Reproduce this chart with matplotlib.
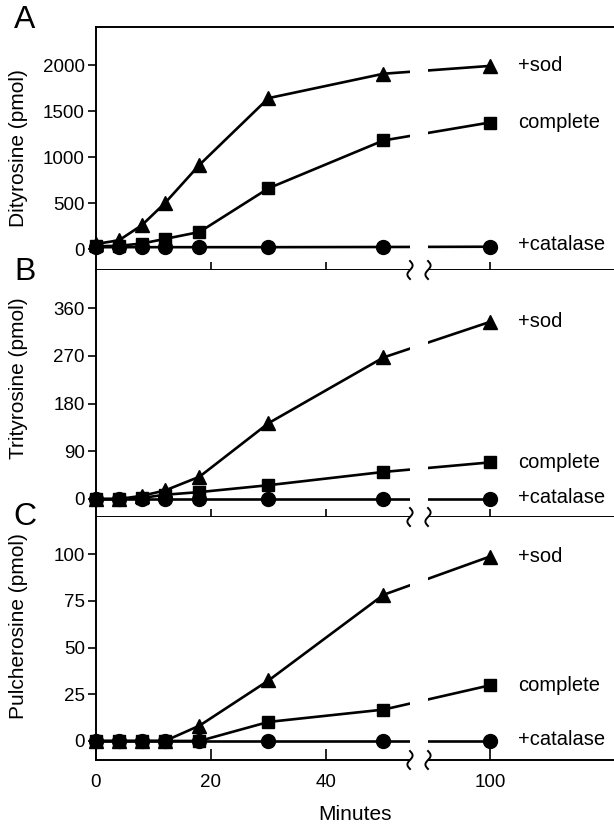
import numpy as np
import matplotlib
matplotlib.use('Agg')
import matplotlib.pyplot as plt
from matplotlib.patches import Rectangle
from matplotlib.lines import Line2D
import matplotlib.transforms as mtransforms

plt.rcParams['font.family'] = ['Liberation Sans', 'DejaVu Sans']

# czasy pomiaru (min)
minutes = [0, 4, 8, 12, 18, 30, 50, 100]

# A - dityrozyna (pmol)
dity_sod = [55, 95, 260, 500, 915, 1640, 1905, 1990]
dity_complete = [30, 35, 60, 110, 185, 660, 1180, 1375]
dity_catalase = [20, 20, 20, 20, 20, 20, 22, 25]

# B - trityrozyna (pmol)
trity_sod = [0, 0, 6, 16, 42, 143, 267, 334]
trity_complete = [0, 0, 2, 8, 13, 26, 51, 69]
trity_catalase = [0, 0, 0, 0, 0, 0, 0, 0]

# C - pulcherozyna (pmol)
pulch_sod = [0, 0, 0, 0, 8.2, 32.4, 78.3, 98.8]
pulch_complete = [0, 0, 0, 0, 0, 10.2, 16.8, 29.8]
pulch_catalase = [0, 0, 0, 0, 0, 0, 0, 0]

series_labels = ['+sod', 'complete', '+catalase']
xtick_vals = [0, 20, 40, 100]

panels = [
    ('A', 'Dityrosine (pmol)', [dity_sod, dity_complete, dity_catalase],
     [0, 500, 1000, 1500, 2000], (-228, 2413)),
    ('B', 'Trityrosine (pmol)', [trity_sod, trity_complete, trity_catalase],
     [0, 90, 180, 270, 360], (-34, 432)),
    ('C', 'Pulcherosine (pmol)', [pulch_sod, pulch_complete, pulch_catalase],
     [0, 25, 50, 75, 100], (-10.2, 120)),
]

# przerwana os x: powyzej 55 min skala scisnieta
BRK = 55.0
K = 0.3


def fwd(x):
    x = np.asarray(x, dtype=float)
    return np.where(x <= BRK, x, BRK + (x - BRK) * K)


def inv(x):
    x = np.asarray(x, dtype=float)
    return np.where(x <= BRK, x, BRK + (x - BRK) / K)


W, H = 614, 825
fig = plt.figure(figsize=(W / 100, H / 100), dpi=100)

left = 96 / W
width = 1 - left
boxes = [(27, 270), (270, 517), (517, 760)]
label_y = [0.5, 0.56, 0.55]
markers = ['^', 's', 'o']
msizes = [10.5, 8.5, 10]

gap_lo, gap_hi = 54.6, float(inv(57.7))

for i, (letter, ylabel, data, yticks, ylim) in enumerate(panels):
    top_px, bot_px = boxes[i]
    ax = fig.add_axes([left, 1 - bot_px / H, width, (bot_px - top_px) / H])
    ax.set_xscale('function', functions=(fwd, inv))
    ax.set_xlim(0, float(inv(90.1)))
    ax.set_ylim(*ylim)

    for vals, m, ms in zip(data, markers, msizes):
        ax.plot(minutes, vals, color='black', lw=1.9, marker=m, ms=ms,
                clip_on=False, zorder=2)

    # etykiety serii po prawej
    for vals, lab in zip(data, series_labels):
        yv = vals[-1] + (0.008 * (ylim[1] - ylim[0]) if lab == '+catalase' else 0)
        ax.text(0.815, yv, lab, transform=ax.get_yaxis_transform(),
                fontsize=14.5, va='center', ha='left')

    ax.spines['right'].set_visible(False)
    if i > 0:
        ax.spines['top'].set_visible(False)
    for s in ['left', 'bottom', 'top']:
        ax.spines[s].set_linewidth(1.4)

    ax.set_yticks(yticks)
    ax.tick_params(axis='y', direction='out', length=6, width=1.2,
                   labelsize=13.5, pad=2)
    if i < 2:
        ax.set_xticks(xtick_vals[1:])
        ax.tick_params(axis='x', direction='inout', length=12, width=1.2,
                       labelbottom=False)
    else:
        ax.set_xticks(xtick_vals)
        ax.tick_params(axis='x', direction='in', length=8, width=1.2,
                       labelsize=13.5, pad=10)
        ax.set_xlabel('Minutes', fontsize=15, labelpad=10)

    ax.set_ylabel(ylabel, fontsize=15)
    ax.yaxis.set_label_coords(-0.131, label_y[i])

    # przerwa na osi (biały pasek + znaczki)
    trans = mtransforms.blended_transform_factory(ax.transData, ax.transAxes)
    ax.add_patch(Rectangle((gap_lo, -0.03), gap_hi - gap_lo, 1.02,
                           transform=trans, facecolor='white',
                           edgecolor='none', zorder=3, clip_on=False))
    u = np.linspace(0, 1, 40)
    for xb_px in [410, 428]:
        xs = xb_px - 2.6 * np.sin(2 * np.pi * u)
        ys = bot_px + 9 - 18 * u
        fig.add_artist(Line2D(xs / W, 1 - ys / H, transform=fig.transFigure,
                              color='black', lw=1.4, zorder=5))

    fig.text(25 / W, 1 - [20, 272, 517][i] / H, letter, fontsize=23,
             ha='center', va='center')

plt.savefig('out.png', dpi=100)
